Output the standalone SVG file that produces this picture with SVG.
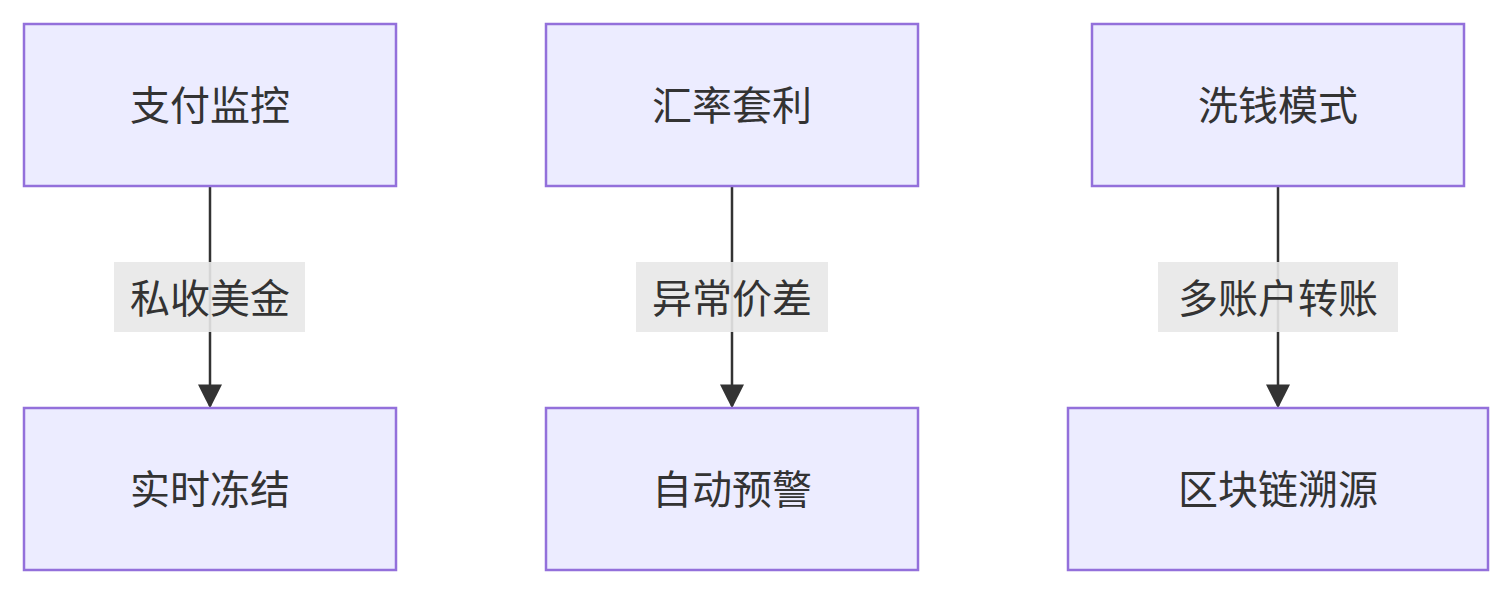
<svg xmlns="http://www.w3.org/2000/svg" width="1512" height="594" viewBox="0 0 1512 594">
<style>
.n{fill:#ECECFF;stroke:#9370DB;stroke-width:2.5}
.t{font-family:"Noto Sans CJK SC",sans-serif;font-size:40px;fill:#333;text-anchor:middle;dominant-baseline:central}
.e{stroke:#333;stroke-width:2.5;fill:none}
.lb{fill:#e8e8e8;opacity:0.9}
</style>
<defs><marker id="a" viewBox="0 0 10 10" refX="10" refY="5" markerWidth="10" markerHeight="10" markerUnits="userSpaceOnUse" orient="auto"><path d="M0,0L10,5L0,10z" fill="#333"/></marker>
<marker id="ah" viewBox="0 0 10 10" refX="9" refY="5" markerWidth="24" markerHeight="24" markerUnits="userSpaceOnUse" orient="auto"><path d="M0,0L10,5L0,10z" fill="#333"/></marker></defs>
<g id="edges">
<path class="e" d="M210,186V406" marker-end="url(#ah)"/>
<path class="e" d="M732,186V406" marker-end="url(#ah)"/>
<path class="e" d="M1278,186V406" marker-end="url(#ah)"/>
<rect class="lb" x="114" y="262" width="191" height="70"/><text class="t" x="210" y="296">私收美金</text>
<rect class="lb" x="636" y="262" width="192" height="70"/><text class="t" x="732" y="296">异常价差</text>
<rect class="lb" x="1158" y="262" width="240" height="70"/><text class="t" x="1278" y="296">多账户转账</text>
</g>
<g id="n1"><rect class="n" x="24" y="24" width="372" height="162"/><text class="t" x="210" y="103">支付监控</text></g>
<g id="n2"><rect class="n" x="546" y="24" width="372" height="162"/><text class="t" x="732" y="103">汇率套利</text></g>
<g id="n3"><rect class="n" x="1092" y="24" width="372" height="162"/><text class="t" x="1278" y="103">洗钱模式</text></g>
<g id="n4"><rect class="n" x="24" y="408" width="372" height="162"/><text class="t" x="210" y="487">实时冻结</text></g>
<g id="n5"><rect class="n" x="546" y="408" width="372" height="162"/><text class="t" x="732" y="487">自动预警</text></g>
<g id="n6"><rect class="n" x="1068" y="408" width="420" height="162"/><text class="t" x="1278" y="487">区块链溯源</text></g>
</svg>
